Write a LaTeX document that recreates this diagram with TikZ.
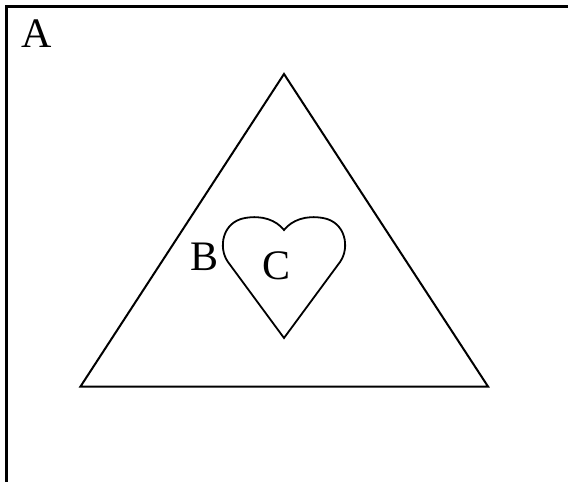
\documentclass[tikz,border=0pt]{standalone}
\usepackage{fontspec}
\setmainfont{Liberation Serif}
\usetikzlibrary{positioning}

\tikzset{
  setlabel/.style={anchor=base,inner sep=0pt,font=\fontsize{42}{50}\selectfont},
  outline/.style={line width=2pt,line join=miter}
}

\begin{document}
\begin{tikzpicture}[x=1pt,y=-1pt]
  \useasboundingbox (0,0) rectangle (568,482);
  % frame of A, cut off at right and bottom
  \draw[line width=2.4pt] (6.5,482) -- (6.5,6.5) -- (568,6.5);
  % triangle B
  \draw[outline] (284,74) -- (488,386.5) -- (80.5,386.5) -- cycle;
  % heart C
  \draw[outline,line width=1.8pt] (284,338) -- (228,262)
    .. controls (218,248) and (222,222) .. (245,218)
    .. controls (262,215) and (276,220) .. (284,230)
    .. controls (292,220) and (306,215) .. (323,218)
    .. controls (346,222) and (350,248) .. (340,262) -- cycle;
  \node[setlabel] (setA) at (36.7,47) {A};
  \node[setlabel] (setB) at (205,270) {B};
  \node[setlabel] (setC) at (277,279) {C};
\end{tikzpicture}
\end{document}
